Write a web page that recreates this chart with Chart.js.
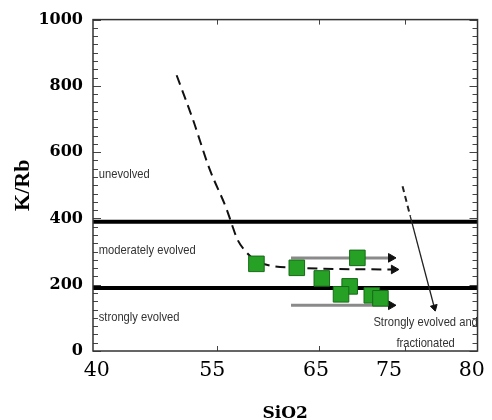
<!DOCTYPE html>
<html><head><meta charset="utf-8">
<script src="https://cdn.jsdelivr.net/npm/chart.js@4.4.1/dist/chart.umd.min.js"></script>
<style>html,body{margin:0;padding:0;background:#fff}#wrap{width:492px;height:420px;position:relative}</style>
</head><body><div id="wrap"><canvas id="c"></canvas></div>
<script>
// ---- data ----
const xTickValues = [40.4, 52.4, 63.2, 70.8, 79.4];
const xTickLabels = ["40", "55", "65", "75", "80"];
const yTickValues = [0, 200, 400, 600, 800, 1000];
const sampleX = [57.0, 61.2, 63.8, 67.5, 66.7, 65.8, 69.0, 69.9];
const sampleY = [263, 251, 219, 281, 195, 171, 168, 159];
const trendX = [48.7, 50.4, 52.1, 53.9, 54.4, 55.0, 55.75, 57.0, 61.2, 71.3];
const trendY = [832, 698, 551, 428, 386, 338, 305, 272, 251, 246];
const boundaryY = [390, 190];
const upperArrowX = [60.6, 71.0], upperArrowY = [281, 281];
const lowerArrowX = [60.6, 71.0], lowerArrowY = [138, 138];
const fracX = [72.2, 73.0, 75.5], fracY = [497, 407, 132];
const zoneLabels = ["unevolved", "moderately evolved", "strongly evolved"];
const zoneLabelX = 40.6;
const zoneLabelY = [533, 302, 102];
const noteLines = ["Strongly evolved and", "fractionated"];
const noteX = 74.6, noteY = [87, 24];
const frameTickX = [52.95, 63.5, 72.5];

const pts = (xs, ys) => xs.map((x, i) => ({x, y: ys[i]}));
const arrowRadius = n => Array.from({length: n}, (_, i) => i === n - 1 ? 5 : 0);

function narrowText(ctx, t, px, py, align) {
  const k = 0.86;
  ctx.save();
  ctx.translate(px, py);
  ctx.scale(k, 1);
  ctx.textAlign = align;
  ctx.fillText(t, 0, 0);
  ctx.restore();
}

const overlay = {
  id: 'overlay',
  afterDraw(chart) {
    const {ctx, chartArea: a, scales: {x, y}} = chart;
    ctx.save();
    ctx.strokeStyle = '#444'; ctx.lineWidth = 1;
    for (let v = 0; v <= 1000; v += 25) {
      const py = Math.round(y.getPixelForValue(v)) + 0.5;
      const len = v % 200 === 0 ? 8 : 5;
      ctx.beginPath(); ctx.moveTo(a.left, py); ctx.lineTo(a.left + len, py); ctx.stroke();
      ctx.beginPath(); ctx.moveTo(a.right, py); ctx.lineTo(a.right - len, py); ctx.stroke();
    }
    frameTickX.forEach(v => {
      const px = Math.round(x.getPixelForValue(v)) + 0.5;
      ctx.beginPath(); ctx.moveTo(px, a.top); ctx.lineTo(px, a.top + 5); ctx.stroke();
      ctx.beginPath(); ctx.moveTo(px, a.bottom); ctx.lineTo(px, a.bottom - 5); ctx.stroke();
    });
    ctx.lineWidth = 1.5; ctx.strokeStyle = '#333';
    ctx.strokeRect(a.left, a.top, a.right - a.left, a.bottom - a.top);
    ctx.fillStyle = '#333';
    ctx.font = '13px "Liberation Sans", Arial, sans-serif';
    ctx.textBaseline = 'middle';
    zoneLabels.forEach((t, i) => narrowText(ctx, t, x.getPixelForValue(zoneLabelX), y.getPixelForValue(zoneLabelY[i]), 'left'));
    noteLines.forEach((t, i) => narrowText(ctx, t, x.getPixelForValue(noteX), y.getPixelForValue(noteY[i]), 'center'));
    ctx.restore();
  }
};

new Chart(document.getElementById('c'), {
  type: 'scatter',
  data: {
    datasets: [
      {data: pts(sampleX, sampleY), pointStyle: 'rect', pointRadius: 11, pointBackgroundColor: '#26a126', pointBorderColor: '#176a17', pointBorderWidth: 1, showLine: false},
      {data: pts(trendX, trendY), showLine: true, borderColor: '#111', borderWidth: 2, borderDash: [10, 6], cubicInterpolationMode: 'monotone',
        pointRadius: arrowRadius(trendX.length), pointStyle: 'triangle', pointRotation: 90, pointBackgroundColor: '#111', pointBorderColor: '#111', pointBorderWidth: 1},
      {data: pts(upperArrowX, upperArrowY), showLine: true, borderColor: '#8a8a8a', borderWidth: 3,
        pointRadius: [0, 5], pointStyle: 'triangle', pointRotation: 90, pointBackgroundColor: '#111', pointBorderColor: '#111', pointBorderWidth: 1},
      {data: pts(lowerArrowX, lowerArrowY), showLine: true, borderColor: '#8a8a8a', borderWidth: 3,
        pointRadius: [0, 5], pointStyle: 'triangle', pointRotation: 90, pointBackgroundColor: '#111', pointBorderColor: '#111', pointBorderWidth: 1},
      {data: pts(fracX, fracY), showLine: true, borderColor: '#222', borderWidth: 1.3,
        segment: {borderDash: c => c.p0DataIndex === 0 ? [6, 4] : undefined, borderWidth: c => c.p0DataIndex === 0 ? 2 : 1.3},
        pointRadius: [0, 0, 4], pointStyle: 'triangle', pointRotation: 165.4, pointBackgroundColor: '#111', pointBorderColor: '#111', pointBorderWidth: 1},
      ...boundaryY.map(v => ({data: [{x: 40, y: v}, {x: 80, y: v}], showLine: true, borderColor: '#000', borderWidth: 4, pointRadius: 0}))
    ]
  },
  options: {
    responsive: true, maintainAspectRatio: false, animation: false,
    layout: {padding: {top: 17, right: 13, left: 0, bottom: 0}},
    plugins: {legend: {display: false}, tooltip: {enabled: false}},
    scales: {
      x: {
        type: 'linear', min: 40, max: 80,
        afterBuildTicks: s => { s.ticks = xTickValues.map(v => ({value: v})); },
        afterFit: s => { s.height = 69; },
        grid: {display: false, drawTicks: false}, border: {display: false},
        ticks: {padding: 7, color: '#000', font: {family: '"DejaVu Serif", serif', size: 20.5}, maxRotation: 0, autoSkip: false,
          callback: (v, i) => xTickLabels[i]},
        title: {display: true, text: 'SiO2', color: '#000', font: {family: '"DejaVu Serif", serif', size: 17, weight: 'bold', lineHeight: 0.8}, padding: {top: 0, bottom: 0}}
      },
      y: {
        type: 'linear', min: 0, max: 1000,
        afterBuildTicks: s => { s.ticks = yTickValues.map(v => ({value: v})); },
        afterFit: s => { s.width = 93; },
        grid: {display: false, drawTicks: false}, border: {display: false},
        ticks: {padding: 10, color: '#000', font: {family: '"DejaVu Serif", serif', size: 16, weight: 'bold'}, callback: v => String(v)},
        title: {display: true, text: 'K/Rb', color: '#000', font: {family: '"Liberation Serif", serif', size: 22, weight: 'bold'}, padding: {top: 10, bottom: 0}}
      }
    }
  },
  plugins: [overlay]
});
</script></body></html>
